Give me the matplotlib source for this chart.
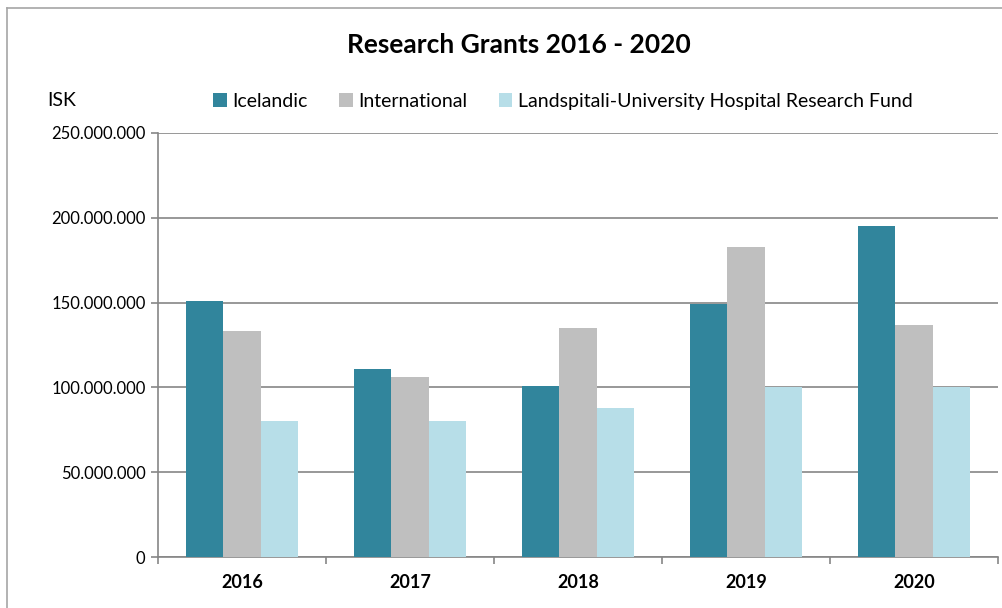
import matplotlib
matplotlib.use("Agg")
import matplotlib.pyplot as plt
import numpy as np
from matplotlib.lines import Line2D
from matplotlib.ticker import FuncFormatter

years = ["2016", "2017", "2018", "2019", "2020"]
icelandic = [151e6, 111e6, 101e6, 149e6, 195e6]
international = [133e6, 106e6, 135e6, 183e6, 137e6]
landspitali = [80e6, 80e6, 88e6, 100e6, 100e6]
series_names = ["Icelandic", "International", "Landspitali-University Hospital Research Fund"]
colors = ["#31859C", "#BFBFBF", "#B7DEE8"]

plt.rcParams['font.family'] = ['Lato', 'DejaVu Sans']

W, H = 1003, 608
fig = plt.figure(figsize=(W/100, H/100), dpi=100)
# outer chart border (only top and left visible in the crop)
fig.add_artist(Line2D([7/W, 1.0], [1 - 8/H, 1 - 8/H], transform=fig.transFigure,
                      color="#A6A6A6", linewidth=1.2))
fig.add_artist(Line2D([7/W, 7/W], [0.0, 1 - 8/H], transform=fig.transFigure,
                      color="#A6A6A6", linewidth=1.2))

ax = fig.add_axes([158/W, 1 - 557/H, (998-158)/W, (557-133)/H])
x = np.arange(len(years))
bw = 112/168/3
for i, (vals, c, name) in enumerate(zip([icelandic, international, landspitali], colors, series_names)):
    ax.bar(x + (i-1)*bw, vals, width=bw, color=c, label=name, zorder=3)

ax.set_xlim(-0.5, len(years)-0.5)
ax.set_ylim(0, 250e6)
ax.set_yticks(np.arange(0, 250e6+1, 50e6))
ax.yaxis.set_major_formatter(FuncFormatter(lambda v, p: f"{int(v):,}".replace(",", ".")))
ax.grid(axis='y', color="#868686", linewidth=1.2, zorder=0)
ax.set_xticks(x)
ax.set_xticklabels(years, fontweight='bold', fontsize=13)
ax.set_xticks(np.arange(-0.5, len(years), 1), minor=True)
ax.tick_params(axis='x', which='major', length=0, pad=12)
ax.tick_params(axis='x', which='minor', length=5, color="#868686", width=1.2)
ax.tick_params(axis='y', length=5, color="#868686", width=1.2, labelsize=12, pad=4)
for s in ["top", "right"]:
    ax.spines[s].set_visible(False)
for s in ["left", "bottom"]:
    ax.spines[s].set_color("#868686")
    ax.spines[s].set_linewidth(1.2)

fig.text(519/W, 1 - 45/H, "Research Grants 2016 - 2020", ha="center", va="center",
         fontsize=19, fontweight="bold")
fig.text(62/W, 1 - 100/H, "ISK", ha="center", va="center", fontsize=14)

leg = fig.legend(loc="center", bbox_to_anchor=(563/W, 1 - 101/H), ncol=3, frameon=False,
                 fontsize=14, handlelength=0.7, handleheight=0.7, handletextpad=0.3,
                 columnspacing=1.6)

fig.savefig("out.png", dpi=100)
